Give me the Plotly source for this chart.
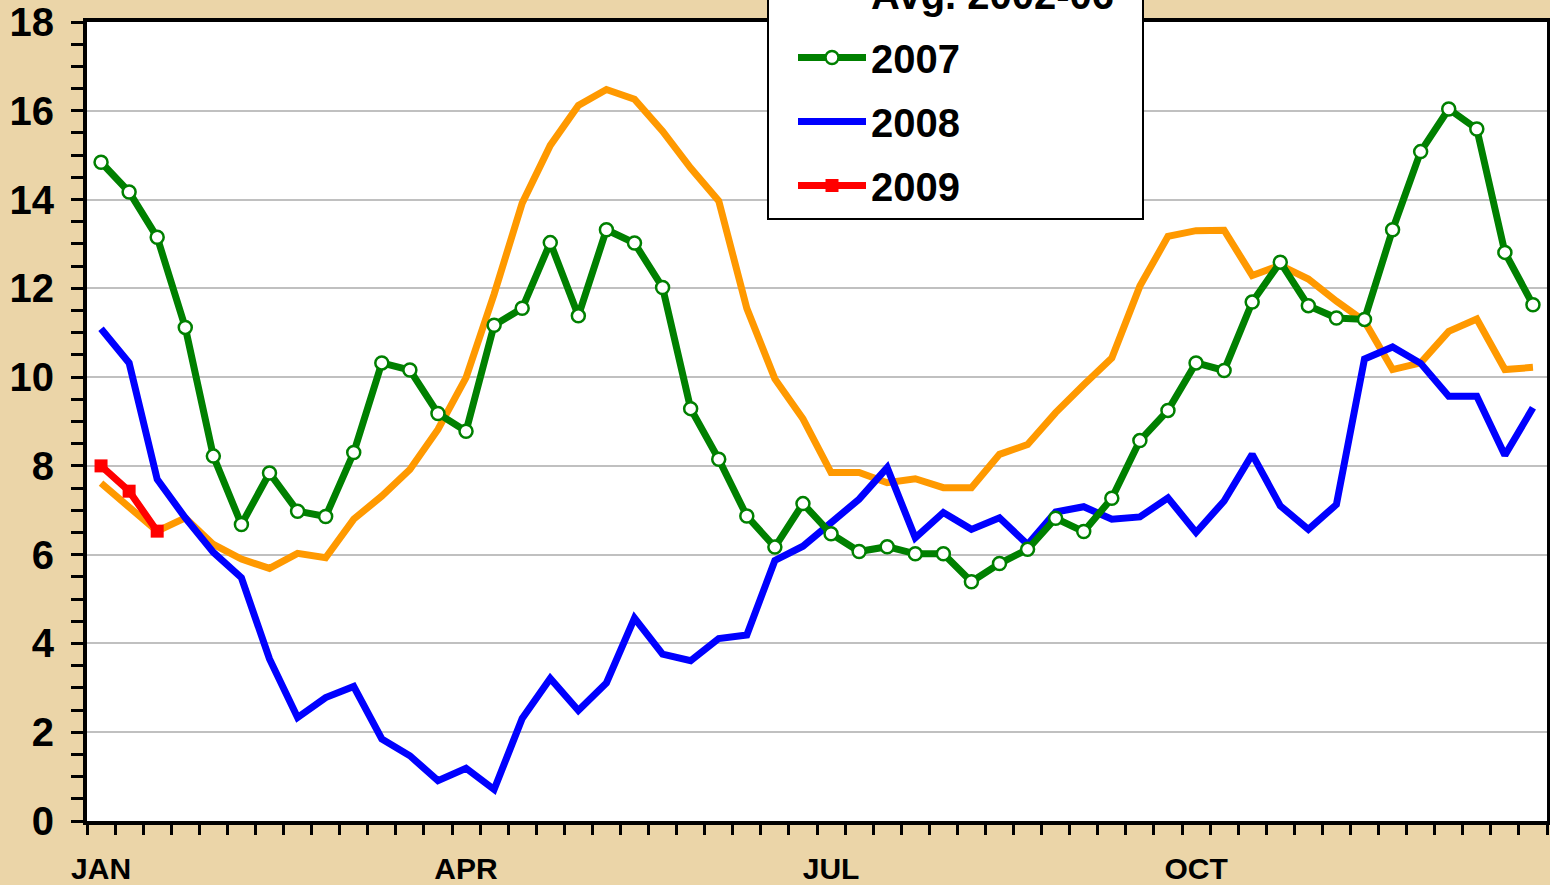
import plotly.graph_objects as go

weeks = list(range(52))
month_pos = [0, 13, 26, 39]
month_labels = ["JAN", "APR", "JUL", "OCT"]

avg_02_06 = [7.61, 7.06, 6.53, 6.83, 6.23, 5.90, 5.69, 6.03, 5.93, 6.80, 7.32, 7.92, 8.82, 9.99,
             11.87, 13.92, 15.22, 16.12, 16.48, 16.26, 15.54, 14.71, 13.97, 11.55, 9.96, 9.06, 7.85,
             7.85, 7.62, 7.71, 7.51, 7.51, 8.26, 8.48, 9.20, 9.83, 10.43, 12.05, 13.17, 13.30,
             13.31, 12.29, 12.52, 12.21, 11.71, 11.26, 10.17, 10.32, 11.03, 11.31, 10.17, 10.22]

y2007 = [14.84, 14.17, 13.15, 11.12, 8.22, 6.68, 7.84, 6.98, 6.86, 8.30, 10.32, 10.16, 9.18, 8.78,
         11.17, 11.55, 13.03, 11.38, 13.32, 13.02, 12.02, 9.29, 8.15, 6.87, 6.17, 7.15, 6.47,
         6.07, 6.18, 6.02, 6.02, 5.39, 5.80, 6.12, 6.82, 6.52, 7.27, 8.57, 9.25, 10.32,
         10.15, 11.69, 12.59, 11.61, 11.33, 11.30, 13.32, 15.08, 16.04, 15.59, 12.81, 11.63]

y2008 = [11.09, 10.32, 7.70, 6.83, 6.05, 5.48, 3.65, 2.33, 2.78, 3.03, 1.85, 1.47, 0.91, 1.19,
         0.71, 2.31, 3.21, 2.49, 3.11, 4.57, 3.76, 3.61, 4.11, 4.19, 5.87, 6.19, 6.72,
         7.25, 7.96, 6.38, 6.95, 6.57, 6.83, 6.23, 6.96, 7.08, 6.80, 6.85, 7.28, 6.50,
         7.21, 8.26, 7.10, 6.57, 7.13, 10.41, 10.68, 10.31, 9.57, 9.57, 8.24, 9.31]

y2009 = [8.00, 7.43, 6.53]

LW = 7
BG = "#EBD5A8"
fig = go.Figure()
fig.add_trace(go.Scatter(x=weeks, y=avg_02_06, name="Avg. 2002-06\u00a0\u00a0", mode="lines",
                         line=dict(color="#FF9900", width=LW), legendrank=1, legendgroup="a"))
fig.add_trace(go.Scatter(x=weeks, y=y2008, name="2008", mode="lines",
                         line=dict(color="#0000FF", width=LW), legendrank=3, legendgroup="c"))
fig.add_trace(go.Scatter(x=weeks, y=y2007, name="2007", mode="lines+markers",
                         line=dict(color="#008000", width=LW),
                         marker=dict(symbol="circle", size=13, color="white",
                                     line=dict(color="#008000", width=2.5)),
                         legendrank=2, legendgroup="b"))
fig.add_trace(go.Scatter(x=weeks[:len(y2009)], y=y2009, name="2009", mode="lines+markers",
                         line=dict(color="#FF0000", width=LW),
                         marker=dict(symbol="square", size=13, color="#FF0000"),
                         legendrank=4, legendgroup="d"))

font_family = "Liberation Sans, Arial, sans-serif"

fig.update_layout(
    width=1550, height=885,
    margin=dict(l=87, r=3, t=22, b=64, autoexpand=False),
    paper_bgcolor=BG,
    plot_bgcolor="white",
    font=dict(family=font_family, color="black"),
    showlegend=True,
    legend=dict(
        x=(767 - 87) / 1460, xanchor="left",
        y=(821 - 220) / 799, yanchor="bottom",
        bgcolor="white", bordercolor="black", borderwidth=2,
        font=dict(size=40, family=font_family, weight="bold", color="black"),
        itemwidth=68, indentation=24,
        traceorder="grouped", tracegroupgap=9,
    ),
    xaxis=dict(
        range=[-0.5, 51.5],
        tickmode="array", tickvals=month_pos, ticktext=month_labels,
        ticks="", ticklabelstandoff=18, ticklabeloverflow="allow",
        tickfont=dict(size=30, family=font_family, weight="bold", color="black"),
        showgrid=False, zeroline=False,
        showline=True, linecolor="black", linewidth=4, mirror=True,
        minor=dict(tick0=-0.5, dtick=1, ticks="outside", ticklen=10, tickwidth=2.5,
                   tickcolor="black", showgrid=False),
    ),
    yaxis=dict(
        range=[0, 18], dtick=2, tick0=0,
        ticks="outside", ticklen=12, tickwidth=2.5, tickcolor="black",
        ticklabelstandoff=9, ticklabeloverflow="allow",
        tickfont=dict(size=40, family=font_family, weight="bold", color="black"),
        showgrid=True, gridcolor="#C0C0C0", gridwidth=2, zeroline=False,
        showline=True, linecolor="black", linewidth=4, mirror=True,
        minor=dict(dtick=0.5, ticks="outside", ticklen=12, tickwidth=2.5,
                   tickcolor="black", showgrid=False),
    ),
)

fig.write_html(
    "out.html",
    config={"displayModeBar": False},
    post_script="document.body.style.margin='0';document.body.style.background='" + BG + "';"
                "document.documentElement.style.overflow='hidden';",
)
